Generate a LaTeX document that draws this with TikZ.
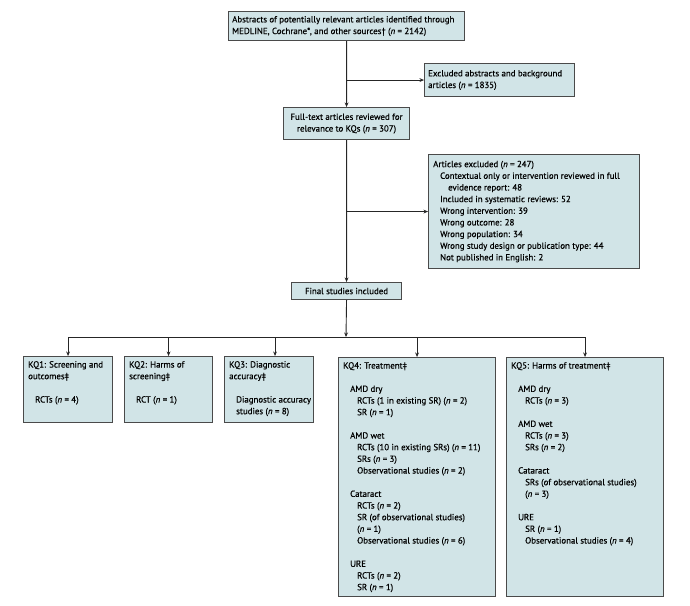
\documentclass[tikz,border=0pt]{standalone}
\usepackage{fontspec}
\setmainfont{PT Sans}[FakeBold=0.5]
\usetikzlibrary{arrows.meta}
\definecolor{boxfill}{HTML}{D1E4E7}
\definecolor{boxline}{HTML}{4A4A4A}
\newcommand\nn{\textit{n}}
\newcommand\ia{\hspace*{7bp}}
\newcommand\ib{\hspace*{14bp}}
\newcommand\ic{\hspace*{15bp}}
\begin{document}
\begin{tikzpicture}[x=1bp,y=-1bp,
  frame/.style={draw=boxline, fill=boxfill, line width=1.1bp, inner sep=0pt, anchor=north west},
  txt/.style={inner sep=0pt, align=left, anchor=north west, font=\fontsize{8.9}{11.7}\selectfont},
  ltxt/.style={inner sep=0pt, align=left, anchor=west, font=\fontsize{8.9}{11.7}\selectfont},
  ctxt/.style={inner sep=0pt, align=center, font=\fontsize{8.9}{11.7}\selectfont},
  conn/.style={draw=black!85, line width=0.9bp},
  arr/.style={conn, -{Stealth[length=4.5bp,width=3.8bp]}}]
\useasboundingbox (0,0) rectangle (690,606);
% frames
\node[frame, minimum width=236bp, minimum height=29bp] (top) at (228,11) {};
\node[frame, minimum width=150bp, minimum height=33bp] (excl1) at (424,63) {};
\node[frame, minimum width=126bp, minimum height=32bp] (full) at (283,107) {};
\node[frame, minimum width=211bp, minimum height=114bp] (artex) at (428,154) {};
\node[frame, minimum width=110bp, minimum height=17bp] (final) at (291,282) {};
\node[frame, minimum width=89bp, minimum height=66bp] (kq1) at (23,356) {};
\node[frame, minimum width=88bp, minimum height=66bp] (kq2) at (124,356) {};
\node[frame, minimum width=89bp, minimum height=66bp] (kq3) at (224,356) {};
\node[frame, minimum width=157bp, minimum height=239bp] (kq4) at (338,357) {};
\node[frame, minimum width=157bp, minimum height=239bp] (kq5) at (506,357) {};
% texts
\node[ltxt] (topt) at ([xshift=4]top.west) {Abstracts of potentially relevant articles identified through\\MEDLINE, Cochrane*, and other sources\textdagger{} (\nn{} = 2142)};
\node[ltxt] (excl1t) at ([xshift=4]excl1.west) {Excluded abstracts and background\\articles (\nn{} = 1835)};
\node[ctxt] (fullt) at (full.center) {Full-text articles reviewed for\\relevance to KQs (\nn{} = 307)};
\node[ltxt] (artext) at ([xshift=5]artex.west) {Articles excluded (\nn{} = 247)\\
\ia Contextual only or intervention reviewed in full\\
\ic evidence report: 48\\
\ia Included in systematic reviews: 52\\
\ia Wrong intervention: 39\\
\ia Wrong outcome: 28\\
\ia Wrong population: 34\\
\ia Wrong study design or publication type: 44\\
\ia Not published in English: 2};
\node[ctxt] (finalt) at (final.center) {Final studies included};
\node[txt] (kq1t) at ([shift={(5,5)}]kq1.north west) {KQ1: Screening and\\outcomes\textdaggerdbl\\[11.7bp]\ia RCTs (\nn{} = 4)};
\node[txt] (kq2t) at ([shift={(5,5)}]kq2.north west) {KQ2: Harms of\\screening\textdaggerdbl\\[11.7bp]\ia RCT (\nn{} = 1)};
\node[txt] (kq3t) at ([shift={(5,5)}]kq3.north west) {KQ3: Diagnostic\\accuracy\textdaggerdbl\\[11.7bp]\ia Diagnostic accuracy\\\ia studies (\nn{} = 8)};
\node[txt] (kq4t) at ([shift={(5,5)}]kq4.north west) {KQ4: Treatment\textdaggerdbl\\[11.7bp]
\ia AMD dry\\
\ib RCTs (1 in existing SR) (\nn{} = 2)\\
\ib SR (\nn{} = 1)\\[11.7bp]
\ia AMD wet\\
\ib RCTs (10 in existing SRs) (\nn{} = 11)\\
\ib SRs (\nn{} = 3)\\
\ib Observational studies (\nn{} = 2)\\[11.7bp]
\ia Cataract\\
\ib RCTs (\nn{} = 2)\\
\ib SR (of observational studies)\\
\ib (\nn{} = 1)\\
\ib Observational studies (\nn{} = 6)\\[11.7bp]
\ia URE\\
\ib RCTs (\nn{} = 2)\\
\ib SR (\nn{} = 1)};
\node[txt] (kq5t) at ([shift={(5,5)}]kq5.north west) {KQ5: Harms of treatment\textdaggerdbl\\[11.7bp]
\ia AMD dry\\
\ib RCTs (\nn{} = 3)\\[11.7bp]
\ia AMD wet\\
\ib RCTs (\nn{} = 3)\\
\ib SRs (\nn{} = 2)\\[11.7bp]
\ia Cataract\\
\ib SRs (of observational studies)\\
\ib (\nn{} = 3)\\[11.7bp]
\ia URE\\
\ib SR (\nn{} = 1)\\
\ib Observational studies (\nn{} = 4)};
% connectors
\coordinate (bus) at (346,337);
\draw[arr] (top.south) -- (full.north);
\draw[arr] (top.south |- excl1.west) -- (excl1.west);
\draw[arr] (full.south) -- (final.north);
\draw[arr] (full.south |- artex.west) -- (artex.west);
\draw[arr] (final.south) -- (bus);
\draw[conn] (kq1.north |- bus) -- (kq5.north |- bus);
\draw[arr] (kq1.north |- bus) -- (kq1.north);
\draw[arr] (kq2.north |- bus) -- (kq2.north);
\draw[arr] ([xshift=6]kq3.north |- bus) -- ([xshift=6]kq3.north);
\draw[arr] (kq4.north |- bus) -- (kq4.north);
\draw[arr] (kq5.north |- bus) -- (kq5.north);
\end{tikzpicture}
\end{document}
